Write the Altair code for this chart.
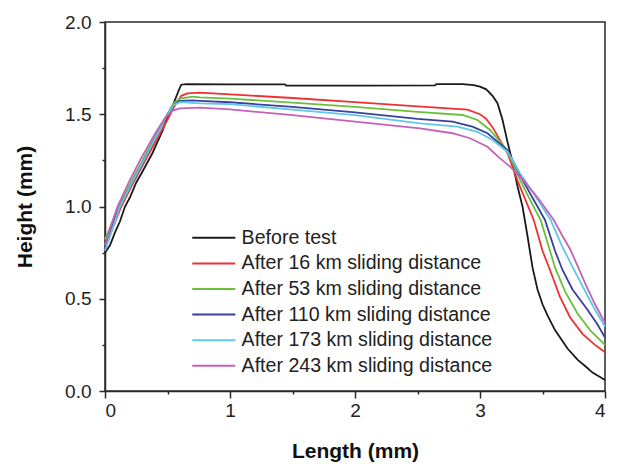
import altair as alt
import pandas as pd

series_names = [
    "Before test",
    "After 16 km sliding distance",
    "After 53 km sliding distance",
    "After 110 km sliding distance",
    "After 173 km sliding distance",
    "After 243 km sliding distance",
]
series_colors = ["#1a1a1a", "#f03030", "#6abf3c", "#3a3fa0", "#5ec8e8", "#c462b6"]

before_x = [0, 0.04, 0.08, 0.12, 0.16, 0.2, 0.25, 0.3, 0.34, 0.38, 0.42, 0.46, 0.5, 0.55, 0.59, 0.61, 0.65, 1.0, 1.44, 1.45, 2.0, 2.64, 2.65, 2.86, 2.95, 3.0, 3.05, 3.1, 3.14, 3.18, 3.22, 3.26, 3.3, 3.34, 3.38, 3.42, 3.46, 3.5, 3.54, 3.6, 3.65, 3.7, 3.78, 3.85, 3.9, 3.95, 4.0]
before_y = [0.75, 0.79, 0.86, 0.92, 1.0, 1.05, 1.13, 1.19, 1.24, 1.29, 1.35, 1.41, 1.49, 1.56, 1.63, 1.66, 1.663, 1.662, 1.662, 1.655, 1.655, 1.656, 1.663, 1.663, 1.658, 1.65, 1.635, 1.6, 1.56, 1.47, 1.35, 1.24, 1.11, 1.0, 0.84, 0.67, 0.55, 0.47, 0.41, 0.33, 0.28, 0.23, 0.17, 0.13, 0.1, 0.08, 0.06]

km16_x = [0, 0.06, 0.13, 0.22, 0.33, 0.42, 0.5, 0.56, 0.61, 0.66, 0.76, 1.0, 1.5, 2.0, 2.5, 2.9, 3.0, 3.05, 3.1, 3.16, 3.22, 3.3, 3.43, 3.5, 3.56, 3.64, 3.72, 3.82, 3.92, 4.0]
km16_y = [0.77, 0.88, 1.0, 1.12, 1.26, 1.37, 1.47, 1.55, 1.6, 1.613, 1.617, 1.608, 1.588, 1.566, 1.543, 1.525, 1.5, 1.475, 1.43, 1.36, 1.29, 1.14, 0.927, 0.76, 0.656, 0.51, 0.4, 0.31, 0.25, 0.21]

km53_x = [0, 0.06, 0.11, 0.2, 0.3, 0.4, 0.5, 0.55, 0.6, 0.7, 0.76, 1.0, 1.5, 2.0, 2.5, 2.86, 2.98, 3.08, 3.16, 3.22, 3.32, 3.42, 3.485, 3.56, 3.6, 3.68, 3.78, 3.88, 4.0]
km53_y = [0.82, 0.92, 1.0, 1.12, 1.25, 1.38, 1.5, 1.56, 1.585, 1.595, 1.592, 1.585, 1.563, 1.54, 1.513, 1.496, 1.469, 1.415, 1.351, 1.3, 1.144, 1.01, 0.927, 0.76, 0.67, 0.54, 0.42, 0.33, 0.25]

km110_x = [0, 0.06, 0.12, 0.21, 0.31, 0.41, 0.5, 0.55, 0.6, 0.7, 0.76, 1.0, 1.5, 2.0, 2.5, 2.78, 2.94, 3.06, 3.14, 3.22, 3.34, 3.52, 3.6, 3.66, 3.74, 3.86, 3.94, 4.0]
km110_y = [0.78, 0.9, 1.0, 1.12, 1.25, 1.38, 1.5, 1.55, 1.572, 1.575, 1.573, 1.565, 1.54, 1.51, 1.475, 1.46, 1.433, 1.397, 1.351, 1.306, 1.144, 0.927, 0.76, 0.656, 0.55, 0.44, 0.36, 0.29]

km173_x = [0, 0.06, 0.12, 0.21, 0.31, 0.41, 0.5, 0.55, 0.6, 0.76, 1.0, 1.5, 2.0, 2.52, 2.82, 2.98, 3.1, 3.22, 3.32, 3.42, 3.565, 3.66, 3.72, 3.78, 3.85, 3.92, 4.0]
km173_y = [0.76, 0.88, 1.0, 1.12, 1.25, 1.38, 1.5, 1.55, 1.566, 1.559, 1.555, 1.525, 1.495, 1.45, 1.433, 1.405, 1.36, 1.297, 1.18, 1.08, 0.927, 0.78, 0.7, 0.62, 0.53, 0.44, 0.35]

km243_x = [0, 0.05, 0.1, 0.19, 0.28, 0.4, 0.48, 0.54, 0.6, 0.76, 1.0, 1.5, 2.0, 2.52, 2.78, 2.92, 3.06, 3.16, 3.24, 3.35, 3.47, 3.59, 3.66, 3.72, 3.78, 3.85, 3.92, 4.0]
km243_y = [0.79, 0.9, 1.0, 1.13, 1.25, 1.395, 1.48, 1.52, 1.532, 1.536, 1.526, 1.495, 1.46, 1.423, 1.397, 1.37, 1.324, 1.261, 1.216, 1.14, 1.04, 0.927, 0.84, 0.77, 0.68, 0.57, 0.47, 0.37]

y_major = [0, 0.5, 1.0, 1.5, 2.0]
y_minor = [0.25, 0.75, 1.25, 1.75]
x_major = [0, 1, 2, 3, 4]
x_minor = [0.5, 1.5, 2.5, 3.5]

all_x = [before_x, km16_x, km53_x, km110_x, km173_x, km243_x]
all_y = [before_y, km16_y, km53_y, km110_y, km173_y, km243_y]
rows = []
for name, xs, ys in zip(series_names, all_x, all_y):
    for i, (xv, yv) in enumerate(zip(xs, ys)):
        rows.append({"series": name, "x": xv, "y": yv, "i": i})
df = pd.DataFrame(rows)

FONT = "Liberation Sans"
AX = "#2a2a2a"

xscale = alt.Scale(domain=[0, 4], nice=False, zero=False)
yscale = alt.Scale(domain=[0, 2], nice=False, zero=False)

lines = alt.Chart(df).mark_line(strokeWidth=1.8).encode(
    x=alt.X("x:Q", scale=xscale, axis=alt.Axis(
        values=x_major, format="d", tickSize=7, tickWidth=1.5, tickColor=AX,
        domainColor=AX, domainWidth=1.5, labelFont=FONT, labelFontSize=19,
        labelColor="#222", labelPadding=3, grid=False, orient="bottom",
        title="Length (mm)", titleFont=FONT, titleFontSize=21, titleFontWeight="bold",
        titleColor="#111", titlePadding=20)),
    y=alt.Y("y:Q", scale=yscale, axis=alt.Axis(
        values=y_major, format=".1f", tickSize=6, tickWidth=1.5, tickColor=AX,
        domainColor=AX, domainWidth=1.5, labelFont=FONT, labelFontSize=19,
        labelColor="#222", labelPadding=8, grid=False, orient="left",
        title="Height (mm)", titleFont=FONT, titleFontSize=21, titleFontWeight="bold",
        titleColor="#111", titlePadding=29)),
    color=alt.Color("series:N", scale=alt.Scale(domain=series_names, range=series_colors),
                    sort=series_names,
                    legend=alt.Legend(
                        title=None, orient="none", legendX=99, legendY=206,
                        symbolType="M-4,0H4", symbolSize=116, symbolStrokeWidth=2,
                        labelFont=FONT, labelFontSize=19.6, labelColor="#222",
                        labelOffset=18, labelLimit=500, rowPadding=4.6, padding=0)),
    order="i:Q",
)

minor = alt.Chart(df).mark_line(opacity=0).encode(
    x=alt.X("x:Q", scale=xscale, axis=alt.Axis(
        values=x_minor, tickSize=3, tickWidth=1.5, tickColor=AX, labels=False,
        domain=False, grid=False, orient="bottom", title=None)),
    y=alt.Y("y:Q", scale=yscale, axis=alt.Axis(
        values=y_minor, tickSize=3, tickWidth=1.5, tickColor=AX, labels=False,
        domain=False, grid=False, orient="left", title=None)),
    detail="series:N",
    order="i:Q",
)

chart = alt.layer(lines, minor).resolve_axis(x="independent", y="independent").properties(
    width=500, height=369,
    autosize=alt.AutoSizeParams(type="none"),
    padding={"left": 97, "top": 14, "right": 5, "bottom": 74},
).configure_view(stroke=AX, strokeWidth=1.5)

chart.save("out.html", embed_options={"renderer": "svg", "actions": False})
